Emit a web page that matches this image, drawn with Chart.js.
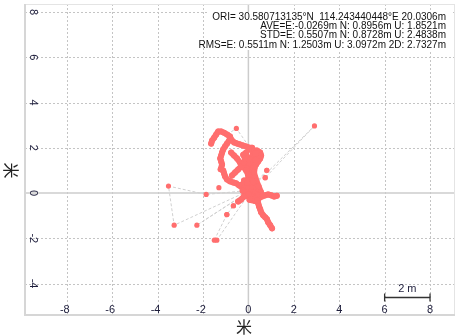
<!DOCTYPE html>
<html>
<head>
<meta charset="utf-8">
<script src="https://cdn.jsdelivr.net/npm/chart.js@4.4.1/dist/chart.umd.min.js"></script>
<style>
  html, body { margin: 0; padding: 0; background: #fff; }
</style>
</head>
<body>
<canvas id="trackChart" width="459" height="336"></canvas>
<script>
// position offsets (metres); null separates strands of the track
const trackX = [
  -1.64, -1.60, -1.51, -1.42, -1.33, -1.20, -1.07, -0.94, -0.81, -0.76, -0.63, -0.50, -0.37, -0.23, -0.10, 0.03, 0.16,
  0.16, 0.21, 0.16, 0.12, 0.07, 0.03, 0.03, 0.07, 0.07, 0.07, 0.07, 0.10, 0.15, null,
  0.03, 0.25, 0.38, 0.52, 0.56, 0.52, 0.43, 0.34, 0.20, null,
  0.30, 0.32, 0.28, 0.25, 0.30, 0.35, 0.40, null,
  -0.10, -0.05, -0.08, -0.02, 0.00, null,
  -0.85, -0.94, -1.03, -1.11, -1.16, -1.20, -1.24, -1.20, -1.16, -1.22, -1.11, -1.07, -1.03, -0.94, -0.81, -0.67, -0.54, -0.41, -0.28, -0.15, 0.05, null,
  -0.76, -0.63, -0.50, -0.37, -0.23, -0.10, -0.01, null,
  -0.72, -0.59, -0.45, -0.32, -0.19, -0.15, -0.23, -0.10, null,
  -0.19, -0.01, 0.16, 0.25, 0.07, -0.10, -0.28, -0.19, -0.01, 0.16, 0.34, 0.43, 0.25, 0.07, -0.10, -0.01, 0.16, 0.34, 0.52, 0.43, 0.25, null,
  -0.25, -0.05, 0.20, 0.45, 0.55, 0.50, 0.30, 0.05, null,
  0.43, 0.60, 0.74, 0.87, 1.00, 1.13, 1.25, null,
  0.30, 0.38, 0.43, 0.47, 0.52, 0.56, 0.65, 0.74, 0.82, 0.87, 0.96, 1.04, null,
  0.00, -0.19, -0.32, -0.45
];
const trackY = [
  2.19, 2.32, 2.45, 2.59, 2.72, 2.72, 2.67, 2.59, 2.50, 2.37, 2.24, 2.19, 2.15, 2.10, 2.06, 2.01, 2.01,
  1.88, 1.75, 1.62, 1.48, 1.35, 1.22, 1.09, 0.96, 0.82, 0.69, 0.50, 0.30, 0.10, null,
  1.95, 1.88, 1.88, 1.79, 1.66, 1.53, 1.40, 1.26, 1.10, null,
  1.75, 1.45, 1.15, 0.90, 0.70, 0.55, 0.40, null,
  1.65, 1.40, 1.10, 0.85, 0.60, null,
  2.32, 2.19, 2.06, 1.93, 1.79, 1.66, 1.53, 1.40, 1.26, 1.05, 1.00, 0.87, 0.74, 0.60, 0.52, 0.47, 0.43, 0.34, 0.25, 0.16, 0.05, null,
  1.79, 1.66, 1.53, 1.35, 1.18, 1.00, 0.82, null,
  0.78, 0.91, 1.04, 1.18, 1.35, 1.53, 1.70, 1.79, null,
  0.56, 0.56, 0.56, 0.38, 0.38, 0.38, 0.38, 0.21, 0.21, 0.21, 0.21, 0.03, 0.03, 0.03, 0.03, -0.15, -0.15, -0.15, -0.15, -0.28, -0.28, null,
  0.10, 0.45, 0.50, 0.30, 0.05, -0.20, -0.35, -0.30, null,
  -0.10, -0.15, -0.10, -0.06, -0.10, -0.15, -0.12, null,
  -0.25, -0.32, -0.45, -0.59, -0.72, -0.85, -0.98, -1.07, -1.16, -1.29, -1.42, -1.56, null,
  -0.05, -0.15, -0.28, -0.37
];

// isolated fixes
const strayX = [0.81, 0.74, -1.30, -0.66, -0.95];
const strayY = [1.01, 0.68, 0.24, -0.56, -0.95];

// jumps between fixes (null = break in the dashed line)
const jumpX = [0.00, 2.91, 0.74, null, -0.94, -0.53, 0.07, null, -0.15, -1.86, -3.52, -3.27, -0.10, null,
  -0.10, -2.27, 0.00, null, 0.05, -1.39, -1.50, -0.95, -0.66, -0.20, null, 0.81, 0.20];
const jumpY = [0.10, 2.97, 0.68, null, 2.59, 2.86, 2.00, null, 0.10, -0.06, 0.31, -1.42, 0.05, null,
  0.00, -1.42, 0.05, null, 0.00, -2.08, -2.08, -0.95, -0.56, -0.10, null, 1.01, 0.30];

const xTicks = [-8, -6, -4, -2, 0, 2, 4, 6, 8];
const yTicks = [-4, -2, 0, 2, 4, 6, 8];
const statLines = [
  'ORI= 30.580713135°N  114.243440448°E 20.0306m',
  'AVE=E:-0.0269m N: 0.8956m U: 1.8521m',
  'STD=E: 0.5507m N: 0.8728m U: 2.4838m',
  'RMS=E: 0.5511m N: 1.2503m U: 3.0972m 2D: 2.7327m'
];
const axisTitle = '米';
const scaleBarFrom = 6;
const scaleBarTo = 8;
const scaleBarLabel = '2 m';

const toPoints = (xs, ys) => xs.map((x, i) => (x === null ? { x: null, y: null } : { x: x, y: ys[i] }));
const trackPoints = toPoints(trackX, trackY);
const strayPoints = toPoints(strayX, strayY);
const jumpPoints = toPoints(jumpX, jumpY);

const red = '#ff6e6e';

const decorations = {
  id: 'decorations',
  beforeDatasetsDraw(chart) {
    const { ctx, chartArea: a, scales: { x, y } } = chart;
    ctx.save();
    ctx.lineWidth = 1;
    ctx.strokeStyle = '#c4c4c4';
    ctx.setLineDash([2, 2]);
    xTicks.forEach(v => {
      if (v === 0) return;
      const px = Math.round(x.getPixelForValue(v)) + 0.5;
      ctx.beginPath(); ctx.moveTo(px, a.top); ctx.lineTo(px, a.bottom); ctx.stroke();
    });
    yTicks.forEach(v => {
      if (v === 0) return;
      const py = Math.round(y.getPixelForValue(v)) + 0.5;
      ctx.beginPath(); ctx.moveTo(a.left, py); ctx.lineTo(a.right, py); ctx.stroke();
    });
    ctx.setLineDash([]);
    ctx.strokeStyle = '#cccccc';
    ctx.lineWidth = 1.5;
    const x0 = x.getPixelForValue(0), y0 = y.getPixelForValue(0);
    ctx.beginPath(); ctx.moveTo(x0, a.top); ctx.lineTo(x0, a.bottom); ctx.stroke();
    ctx.beginPath(); ctx.moveTo(a.left, y0); ctx.lineTo(a.right, y0); ctx.stroke();
    // frame
    ctx.lineWidth = 1;
    ctx.strokeStyle = '#e4e4e4';
    ctx.strokeRect(a.left + 0.5, a.top + 0.5, a.width - 1, a.height - 1);
    ctx.lineWidth = 2;
    ctx.strokeStyle = '#d6d6d6';
    ctx.beginPath(); ctx.moveTo(a.left, a.top); ctx.lineTo(a.left, a.bottom); ctx.lineTo(a.right, a.bottom); ctx.stroke();
    ctx.restore();
  },
  afterDraw(chart) {
    const { ctx, chartArea: a, scales: { x, y } } = chart;
    ctx.save();
    ctx.fillStyle = '#1e1e3c';
    ctx.font = '11px "Liberation Sans", Arial, sans-serif';
    ctx.textAlign = 'center';
    ctx.textBaseline = 'middle';
    xTicks.forEach(v => ctx.fillText(String(v), x.getPixelForValue(v) + (v < 0 ? -2 : 0), a.bottom - 5));
    yTicks.forEach(v => {
      ctx.save();
      ctx.translate(a.left + 8, y.getPixelForValue(v));
      ctx.rotate(Math.PI / 2);
      ctx.fillText(String(v), 0, 0);
      ctx.restore();
    });

    // stats box
    ctx.fillStyle = '#ffffff';
    ctx.fillRect(208, 12, 243, 38);
    ctx.fillStyle = '#111111';
    ctx.font = '10px "Liberation Sans", Arial, sans-serif';
    ctx.textAlign = 'right';
    statLines.forEach((t, i) => ctx.fillText(t, 446, 16.8 + i * 9.4));

    // scale bar
    const bx1 = x.getPixelForValue(scaleBarFrom), bx2 = x.getPixelForValue(scaleBarTo);
    const by = Math.round(y.getPixelForValue(-4.6)) + 0.5;
    ctx.strokeStyle = '#333333';
    ctx.lineWidth = 1.3;
    ctx.beginPath();
    ctx.moveTo(bx1, by); ctx.lineTo(bx2, by);
    ctx.moveTo(bx1, by - 4); ctx.lineTo(bx1, by + 4);
    ctx.moveTo(bx2, by - 4); ctx.lineTo(bx2, by + 4);
    ctx.stroke();
    ctx.fillStyle = '#1e1e3c';
    ctx.textAlign = 'center';
    ctx.font = '11px "Liberation Sans", Arial, sans-serif';
    ctx.fillText(scaleBarLabel, (bx1 + bx2) / 2, by - 9);

    // axis titles
    ctx.fillStyle = '#222222';
    ctx.font = '16px "Noto Sans CJK SC", sans-serif';
    ctx.fillText(axisTitle, (a.left + a.right) / 2 + 4, a.bottom + 12);
    ctx.save();
    ctx.translate(11, (a.top + a.bottom) / 2 + 11);
    ctx.rotate(Math.PI / 2);
    ctx.fillText(axisTitle, 0, 0);
    ctx.restore();
    ctx.restore();
  }
};

new Chart(document.getElementById('trackChart').getContext('2d'), {
  type: 'scatter',
  data: {
    datasets: [
      {
        label: 'track',
        data: trackPoints,
        showLine: true,
        spanGaps: false,
        borderColor: red,
        borderWidth: 6,
        borderCapStyle: 'round',
        borderJoinStyle: 'round',
        pointRadius: 3,
        pointBorderWidth: 0,
        pointBackgroundColor: red
      },
      {
        label: 'stray',
        data: strayPoints,
        showLine: false,
        pointRadius: 2.6,
        pointBorderWidth: 0,
        pointBackgroundColor: red
      },
      {
        label: 'jump',
        data: jumpPoints,
        showLine: true,
        spanGaps: false,
        borderColor: '#d0d0d0',
        borderWidth: 1,
        borderDash: [3, 2],
        pointRadius: 2.6,
        pointBorderWidth: 0,
        pointBackgroundColor: red
      }
    ]
  },
  options: {
    responsive: false,
    animation: false,
    devicePixelRatio: 1,
    layout: { padding: { left: 25, right: 4, top: 3, bottom: 21 } },
    plugins: { legend: { display: false }, tooltip: { enabled: false } },
    scales: {
      x: {
        type: 'linear', min: -9.84, max: 9.1,
        ticks: { display: false, stepSize: 2, includeBounds: false },
        grid: { display: false, drawTicks: false },
        border: { display: false }
      },
      y: {
        type: 'linear', min: -5.39, max: 8.36,
        ticks: { display: false, stepSize: 2, includeBounds: false },
        grid: { display: false, drawTicks: false },
        border: { display: false }
      }
    }
  },
  plugins: [decorations]
});
</script>
</body>
</html>
